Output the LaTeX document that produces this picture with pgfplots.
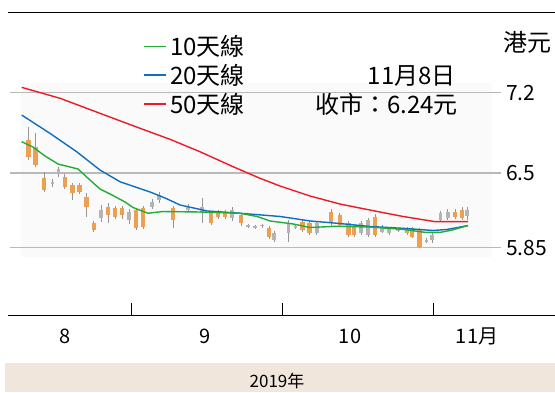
\documentclass[border=0pt]{standalone}
\usepackage{fontspec}
\setmainfont{Noto Sans CJK TC}
\usepackage{pgfplots}
\pgfplotsset{compat=1.18}
\usepackage{pgfplotstable}
\definecolor{maA}{RGB}{34,172,56}
\definecolor{maB}{RGB}{16,110,190}
\definecolor{maC}{RGB}{236,28,36}
\definecolor{candleo}{RGB}{238,160,82}
\definecolor{candleg}{RGB}{180,180,180}
\definecolor{wick}{RGB}{150,150,150}
\definecolor{band}{RGB}{241,230,220}
\definecolor{gridc}{RGB}{185,185,185}

% orange (falling) candles: x, high, body top, body bottom, low
\pgfplotstableread{
x hi bt bb lo
28.3 6.903 6.787 6.642 6.613
35.4 6.848 6.729 6.570 6.555
44.2 6.511 6.457 6.352 6.337
64.8 6.491 6.468 6.381 6.361
72.6 6.413 6.396 6.323 6.265
79.6 6.413 6.396 6.337 6.317
86.7 6.323 6.294 6.207 6.120
93.8 6.083 6.063 6.004 5.987
108 6.237 6.207 6.135 6.063
115 6.213 6.193 6.120 6.100
122 6.213 6.193 6.135 6.100
136 6.196 6.178 6.019 6.004
143 6.213 6.193 6.033 6.013
173 6.213 6.193 6.091 6.019
211 6.170 6.150 6.063 6.048
218 6.178 6.163 6.120 6.100
225 6.178 6.163 6.120 6.100
241 6.152 6.135 6.063 6.039
269 6.039 6.019 5.946 5.926
302.7 6.100 6.077 6.004 5.987
309.7 6.083 6.063 5.976 5.961
331 6.187 6.163 6.063 6.039
339.8 6.152 6.135 6.048 6.030
348.7 6.083 6.063 5.961 5.943
354 6.048 6.033 5.961 5.943
375 6.143 6.120 5.961 5.943
407 6.030 6.019 5.976 5.961
412 6.030 6.019 5.946 5.935
419.5 6.022 6.004 5.859 5.848
455 6.187 6.163 6.120 6.100
462 6.204 6.178 6.106 6.091
}\orangecandles

% grey (rising) candles
\pgfplotstableread{
x hi bt bb lo
52.4 6.448 6.424 6.404 6.378
58.4 6.555 6.535 6.491 6.468
100.9 6.222 6.178 6.106 6.074
129 6.187 6.163 6.091 6.057
152 6.274 6.250 6.207 6.187
159 6.335 6.309 6.265 6.239
188 6.230 6.207 6.178 6.161
202 6.280 6.207 6.150 6.063
232 6.204 6.178 6.106 6.083
248 6.057 6.048 6.033 6.022
255 6.048 6.039 6.026 6.013
262 6.057 6.048 6.035 6.022
274 5.996 5.976 5.917 5.903
288.5 6.091 6.063 5.976 5.903
295.6 6.048 6.039 6.026 6.013
316.8 6.083 6.063 5.976 5.961
361 6.083 6.063 5.976 5.961
368 6.109 6.091 5.961 5.943
382 6.048 6.033 5.990 5.978
389 6.030 6.019 5.976 5.961
398 6.022 6.013 5.996 5.987
426.5 5.935 5.917 5.903 5.891
432 5.978 5.961 5.917 5.889
440.7 6.170 6.150 6.091 6.074
447.8 6.187 6.163 6.106 6.091
467 6.207 6.178 6.126 6.091
}\greycandles

\pgfplotstableread{
x y
21.7 7.245
60 7.150
100 7.019
140 6.889
170 6.793
200 6.685
233 6.555
260 6.454
280 6.387
310 6.300
340 6.230
370 6.178
403 6.122
435 6.077
468 6.077
}\mafifty

\pgfplotstableread{
x y
21.7 7.004
50 6.845
76.7 6.685
100 6.526
120 6.424
150 6.335
165 6.283
180 6.222
207 6.170
240 6.150
280 6.122
310 6.083
337 6.063
370 6.035
403 6.019
433 6.000
447 6.009
468 6.043
}\matwenty

\pgfplotstableread{
x y
21.7 6.772
33 6.726
45 6.648
58 6.578
78 6.535
90 6.439
100 6.361
112 6.309
125 6.248
133 6.200
148 6.150
163 6.165
200 6.161
240 6.150
257 6.122
270 6.083
293 6.057
310 6.026
337 6.037
370 6.030
403 6.010
425 5.984
440 5.983
452 6.004
468 6.043
}\maten

\begin{document}
\begin{tikzpicture}
\useasboundingbox (0,0) rectangle (555pt,392pt);
% bottom band
\fill[band] (5pt,0) rectangle (555pt,29pt);
\node[font=\fontsize{17}{20}\selectfont, inner sep=0pt] at (277pt,11pt) {2019年};
% faint plot background
\fill[black!2] (21pt,135pt) rectangle (492pt,309pt);
% top and bottom rules
\draw[line width=1pt] (8pt,379.6pt) -- (555pt,379.6pt);
\draw[line width=1pt] (8pt,77pt) -- (555pt,77pt);

\begin{axis}[
  at={(10pt,77pt)}, anchor=south west,
  scale only axis, width=491pt, height=302.6pt,
  xmin=10, xmax=501, ymin=5.265, ymax=7.897,
  axis line style={draw=none},
  ytick={5.85,6.5,7.2}, yticklabels={5.85,6.5,7.2},
  ymajorgrids, grid style={gridc, line width=1.1pt},
  yticklabel pos=right,
  ytick style={draw=none},
  yticklabel style={anchor=west, inner sep=0pt, xshift=5pt, font=\fontsize{21}{24}\selectfont},
  xtick={131,282.5,433.6}, xticklabels={,,},
  xtick pos=bottom, tick align=inside, major tick length=12pt,
  xtick style={black, line width=0.9pt},
  extra x ticks={65.5,205,350,477},
  extra x tick labels={8,9,10,11月},
  extra x tick style={tick style={draw=none}, major tick length=0pt},
  xticklabel style={anchor=base, inner sep=0pt, yshift=-28pt, font=\fontsize{20}{24}\selectfont},
  candle/.style={only marks, mark size=0pt, mark options={draw=none, fill=none}, forget plot},
]
% wicks
\addplot[candle, error bars/.cd, y dir=both, y explicit, error mark=none,
  error bar style={line width=0.8pt, color=wick}]
  table[x=x, y=bb, y error plus expr=\thisrow{hi}-\thisrow{bb}, y error minus expr=\thisrow{bb}-\thisrow{lo}] {\orangecandles};
\addplot[candle, error bars/.cd, y dir=both, y explicit, error mark=none,
  error bar style={line width=0.8pt, color=wick}]
  table[x=x, y=bb, y error plus expr=\thisrow{hi}-\thisrow{bb}, y error minus expr=\thisrow{bb}-\thisrow{lo}] {\greycandles};
% bodies
\addplot[candle, error bars/.cd, y dir=plus, y explicit, error mark=none,
  error bar style={line width=4.5pt, color=candleo}]
  table[x=x, y=bb, y error plus expr=\thisrow{bt}-\thisrow{bb}] {\orangecandles};
\addplot[candle, error bars/.cd, y dir=plus, y explicit, error mark=none,
  error bar style={line width=3.5pt, color=candleg}]
  table[x=x, y=bb, y error plus expr=\thisrow{bt}-\thisrow{bb}] {\greycandles};
% moving averages
\addplot[maC, line width=1.4pt, mark=none] table[x=x,y=y] {\mafifty};
\addplot[maB, line width=1.4pt, mark=none] table[x=x,y=y] {\matwenty};
\addplot[maA, line width=1.4pt, mark=none] table[x=x,y=y] {\maten};
\end{axis}

% legend
\draw[maA, line width=1.6pt] (144pt,345.5pt) -- (166pt,345.5pt);
\node[anchor=west, inner sep=0pt, font=\fontsize{24}{28}\selectfont] at (170pt,345.5pt) {10天線};
\draw[maB, line width=1.6pt] (144pt,317pt) -- (166pt,317pt);
\node[anchor=west, inner sep=0pt, font=\fontsize{24}{28}\selectfont] at (170pt,316.5pt) {20天線};
\draw[maC, line width=1.6pt] (144pt,288pt) -- (166pt,288pt);
\node[anchor=west, inner sep=0pt, font=\fontsize{24}{28}\selectfont] at (170pt,288pt) {50天線};
% annotation
\node[anchor=east, inner sep=0pt, font=\fontsize{24}{28}\selectfont] at (456pt,316pt) {11月8日};
\node[anchor=east, inner sep=0pt, font=\fontsize{24}{28}\selectfont] at (458pt,288pt) {收市：6.24元};
\node[anchor=east, inner sep=0pt, font=\fontsize{24}{28}\selectfont] at (552pt,350pt) {港元};
\end{tikzpicture}
\end{document}
